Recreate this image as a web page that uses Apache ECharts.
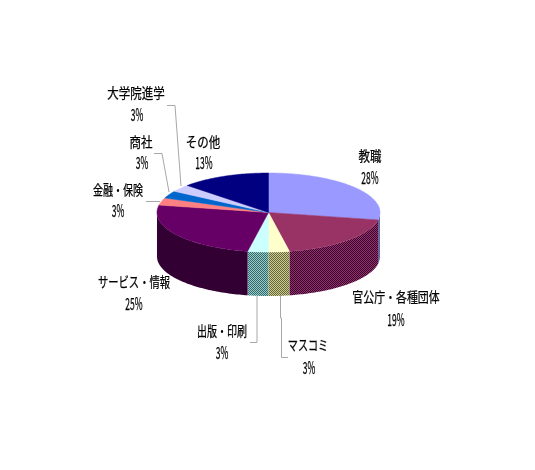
<!DOCTYPE html>
<html><head><meta charset="utf-8">
<style>html,body{margin:0;padding:0;background:#fff}#c{width:535px;height:470px}</style>
<script src="https://cdn.jsdelivr.net/npm/echarts@6/dist/echarts.min.js"></script>
</head><body><div id="c"></div>
<script>
const categories=['教職','官公庁・各種団体','マスコミ','出版・印刷','サービス・情報','金融・保険','商社','大学院進学','その他'];
const shares=[28,19,3,3,25,3,3,3,13];
const tickLabels=['28%','19%','3%','3%','25%','3%','3%','3%','13%'];
const topColors=['#9999FF','#993366','#FFFFCC','#CCFFFF','#660066','#FF8080','#0066CC','#CCCCFF','#000080'];
const wallA=['#666699','#993366','#CCCC99','#99CCCC','#330033','#993333','#003366','#666699','#000040'];
const wallB=['#666699','#330033','#666633','#336666','#330033','#993333','#003366','#666699','#000040'];
const cx=268.5,cy=212.5,rx=111.5,ry=39.5,depth=44;
const total=shares.reduce((a,b)=>a+b,0);
function checker(a,b){
  if(a===b) return a;
  const c=document.createElement('canvas');c.width=c.height=2;
  const g=c.getContext('2d');g.fillStyle=a;g.fillRect(0,0,2,2);g.fillStyle=b;g.fillRect(0,0,1,1);g.fillRect(1,1,1,1);
  return {image:c,repeat:'repeat'};
}
const pt=(t,dy)=>[cx+rx*Math.sin(t),cy-ry*Math.cos(t)+(dy||0)];
function arc(a,b,dy){const n=Math.max(2,Math.ceil((b-a)/0.02));const r=[];for(let i=0;i<=n;i++)r.push(pt(a+(b-a)*i/n,dy));return r;}
function renderItem(params,api){
  const i=params.dataIndex;
  let before=0;for(let k=0;k<i;k++)before+=shares[k];
  const a=before/total*2*Math.PI,b=(before+api.value(0))/total*2*Math.PI;
  const kids=[];
  const lo=Math.max(a,Math.PI/2),hi=Math.min(b,Math.PI*1.5);
  if(hi>lo){
    const wall=arc(lo,hi,0).concat(arc(lo,hi,depth).reverse());
    const f=checker(wallA[i],wallB[i]);
    kids.push({type:'polygon',shape:{points:wall},style:{fill:f,stroke:null}});
  }
  kids.push({type:'polygon',shape:{points:[[cx,cy]].concat(arc(a,b,0))},style:{fill:topColors[i],stroke:topColors[i],lineWidth:0.5}});
  return {type:'group',children:kids};
}
const nameScale=[0.82,0.78,0.72,0.715,0.735,0.715,0.82,0.82,0.82];
const pctScale=0.5;
const nameAt=[[370,156],[396,297],[308,345],[222,331],[134,282],[118,190],[141,142],[136,93],[203,142]];
const pctAt=[[370,178],[396,320],[309,368],[222,353],[134,304],[118,211],[142,163],[137,115],[204,163]];
const leaders=[
 [[167,105.5],[175,105.5],[181,186]],
 [[154,153.5],[162,153.5],[169,192]],
 [[146,201.5],[160,201.5]],
 [[257,296],[257,342.5],[250,342.5]],
 [[280.5,295],[280.5,318],[281.5,318],[281.5,357.5],[288,357.5]]
];
const gfx=[];
leaders.forEach(p=>gfx.push({type:'polyline',shape:{points:p},style:{stroke:'#A8A8A8',lineWidth:1,fill:null},silent:true,z:5}));
categories.forEach((n,i)=>{
  gfx.push({type:'text',x:nameAt[i][0],y:nameAt[i][1],scaleX:nameScale[i],style:{text:n,font:'14px "Noto Sans CJK JP"',fill:'#000',stroke:'#000',lineWidth:0.25,align:'center',verticalAlign:'middle'},z:6});
  gfx.push({type:'text',x:pctAt[i][0],y:pctAt[i][1],scaleX:pctScale,style:{text:tickLabels[i],font:'17px "Noto Sans CJK JP"',fill:'#000',stroke:'#000',lineWidth:0.25,align:'center',verticalAlign:'middle'},z:6});
});
const chart=echarts.init(document.getElementById('c'),null,{renderer:'canvas'});
chart.setOption({
  animation:false,backgroundColor:'#fff',
  graphic:gfx,
  series:[{type:'custom',coordinateSystem:'none',renderItem,data:shares.map((v,i)=>({name:categories[i],value:[v]}))}]
});
</script></body></html>
